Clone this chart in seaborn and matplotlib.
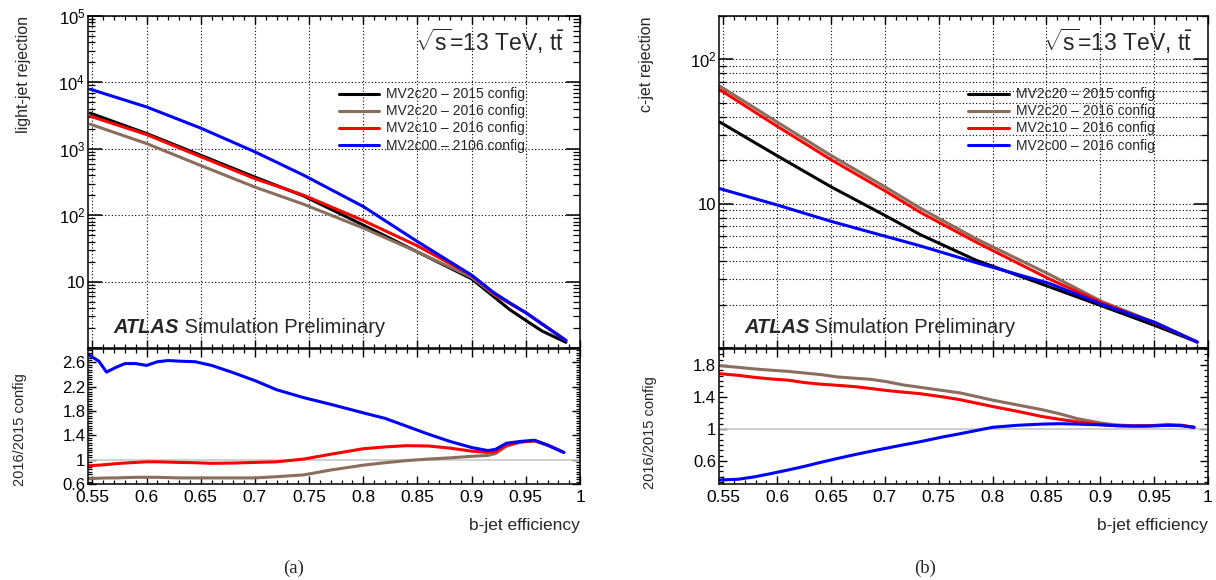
import numpy as np
import matplotlib
matplotlib.use("Agg")
import matplotlib.pyplot as plt
import matplotlib.ticker as mticker
import seaborn as sns

# ---- data ----
labels_a = ["MV2c20 \u2013 2015 config", "MV2c20 \u2013 2016 config",
            "MV2c10 \u2013 2016 config", "MV2c00 \u2013 2106 config"]
labels_b = ["MV2c20 \u2013 2015 config", "MV2c20 \u2013 2016 config",
            "MV2c10 \u2013 2016 config", "MV2c00 \u2013 2016 config"]
colors = ["#000000", "#8b6d5e", "#ff0000", "#0000ff"]

# (a) light-jet rejection
eff_a = [0.548, 0.6, 0.65, 0.7, 0.745, 0.8, 0.85, 0.9, 0.92, 0.935, 0.95, 0.965, 0.987]
light_mv2c20_15 = [3450, 1700, 800, 375, 195, 71, 28, 11.0, 6.0, 3.8, 2.6, 1.8, 1.22]
light_mv2c20_16 = [2350, 1200, 560, 265, 146, 64, 28, 11.6, 6.5, 4.7, 3.4, 2.3, 1.3]
light_mv2c10_16 = [3100, 1640, 760, 355, 200, 83, 34.5, 12.4, 6.7, 4.75, 3.4, 2.3, 1.3]
light_mv2c00_16 = [7900, 4270, 2050, 900, 400, 135, 40, 12.5, 6.9, 4.8, 3.4, 2.3, 1.3]

eff_ra = [0.547, 0.556, 0.563, 0.572, 0.58, 0.59, 0.60, 0.61, 0.62, 0.63, 0.645, 0.66,
          0.68, 0.70, 0.72, 0.745, 0.77, 0.80, 0.82, 0.84, 0.86, 0.88, 0.90, 0.915,
          0.922, 0.932, 0.945, 0.958, 0.97, 0.985]
ratio_a_mv2c20 = [0.69, 0.695, 0.70, 0.70, 0.705, 0.71, 0.71, 0.71, 0.705, 0.70, 0.70, 0.70,
                  0.70, 0.70, 0.72, 0.75, 0.83, 0.91, 0.95, 0.985, 1.01, 1.03, 1.055, 1.07,
                  1.10, 1.22, 1.29, 1.31, 1.24, 1.12]
ratio_a_mv2c10 = [0.90, 0.91, 0.92, 0.935, 0.945, 0.955, 0.965, 0.965, 0.96, 0.955, 0.95, 0.94,
                  0.945, 0.955, 0.965, 1.01, 1.09, 1.18, 1.21, 1.23, 1.225, 1.19, 1.14, 1.12,
                  1.13, 1.24, 1.29, 1.31, 1.24, 1.12]
ratio_a_mv2c00 = [2.72, 2.62, 2.44, 2.52, 2.58, 2.58, 2.55, 2.61, 2.63, 2.62, 2.61, 2.55,
                  2.43, 2.30, 2.15, 2.02, 1.91, 1.77, 1.68, 1.55, 1.42, 1.30, 1.20, 1.15,
                  1.17, 1.27, 1.30, 1.32, 1.24, 1.12]

# (b) c-jet rejection
eff_b = [0.547, 0.6, 0.65, 0.7, 0.733, 0.785, 0.853, 0.902, 0.951, 0.99]
c_mv2c20_15 = [36.7, 21.5, 13.1, 8.3, 6.1, 4.05, 2.65, 1.95, 1.43, 1.1]
c_mv2c20_16 = [65.2, 36.8, 21.6, 13.1, 9.3, 5.7, 3.23, 2.09, 1.5, 1.1]
c_mv2c10_16 = [61.5, 34.4, 20.2, 12.3, 8.7, 5.4, 3.0, 2.05, 1.49, 1.1]
c_mv2c00_16 = [12.7, 9.8, 7.55, 5.96, 5.1, 3.9, 2.8, 2.0, 1.5, 1.1]

eff_rb = [0.547, 0.564, 0.579, 0.594, 0.61, 0.625, 0.64, 0.656, 0.671, 0.687, 0.702, 0.717,
          0.733, 0.754, 0.77, 0.80, 0.823, 0.846, 0.862, 0.878, 0.89, 0.902, 0.915, 0.93,
          0.945, 0.963, 0.975, 0.987]
ratio_b_mv2c20 = [1.79, 1.77, 1.75, 1.735, 1.72, 1.70, 1.68, 1.65, 1.635, 1.62, 1.59, 1.55,
                  1.52, 1.48, 1.45, 1.36, 1.30, 1.24, 1.19, 1.13, 1.10, 1.07, 1.05, 1.04,
                  1.04, 1.05, 1.045, 1.02]
ratio_b_mv2c10 = [1.69, 1.67, 1.645, 1.625, 1.61, 1.58, 1.56, 1.545, 1.53, 1.505, 1.48, 1.46,
                  1.44, 1.40, 1.365, 1.28, 1.22, 1.155, 1.12, 1.09, 1.07, 1.05, 1.04, 1.035,
                  1.04, 1.05, 1.045, 1.02]
ratio_b_mv2c00 = [0.36, 0.37, 0.40, 0.44, 0.485, 0.53, 0.58, 0.63, 0.675, 0.72, 0.76, 0.80,
                  0.84, 0.90, 0.94, 1.02, 1.045, 1.06, 1.065, 1.06, 1.055, 1.05, 1.04, 1.035,
                  1.035, 1.045, 1.04, 1.02]

# ---- style ----
sns.set_style("ticks")
plt.rcParams["font.family"] = ["Liberation Sans", "DejaVu Sans"]
plt.rcParams["mathtext.fontset"] = "custom"
plt.rcParams["mathtext.rm"] = "Liberation Sans"
plt.rcParams["mathtext.it"] = "Liberation Sans:italic"
plt.rcParams["mathtext.bf"] = "Liberation Sans:bold"
plt.rcParams["axes.edgecolor"] = "black"
plt.rcParams["axes.linewidth"] = 1.1
plt.rcParams["xtick.color"] = "black"
plt.rcParams["ytick.color"] = "black"


def log_fmt(v, pos):
    n = int(round(np.log10(v)))
    if n == 0:
        return ""
    if n == 1:
        return "10"
    return r"$10^{%d}$" % n


fig = plt.figure(figsize=(12.16, 5.8), dpi=100)

panels = [
    dict(x0=0.0724, w=0.4046, eff=eff_a,
         top=[light_mv2c20_15, light_mv2c20_16, light_mv2c10_16, light_mv2c00_16],
         ylim=(1, 1e5), ylab="light-jet rejection", ylab_x=-0.116, labels=labels_a,
         eff_r=eff_ra, ratios=[ratio_a_mv2c20, ratio_a_mv2c10, ratio_a_mv2c00],
         rlim=(0.6, 2.82), rticks=[0.6, 1, 1.4, 1.8, 2.2, 2.6], rminor=0.04,
         rlab_x=-0.124, rlab_y=0.82, ygrid="major", tag="(a)", tag_x=294 / 1216),
    dict(x0=0.5913, w=0.4021, eff=eff_b,
         top=[c_mv2c20_15, c_mv2c20_16, c_mv2c10_16, c_mv2c00_16],
         ylim=(1, 200), ylab="c-jet rejection", ylab_x=-0.132, labels=labels_b,
         eff_r=eff_rb, ratios=[ratio_b_mv2c20, ratio_b_mv2c10, ratio_b_mv2c00],
         rlim=(0.31, 2.0), rticks=[0.6, 1, 1.4, 1.8], rminor=0.4 / 6,
         rlab_x=-0.126, rlab_y=0.8, ygrid="both", tag="(b)", tag_x=925 / 1216),
]

for p in panels:
    ax = fig.add_axes([p["x0"], 0.40, p["w"], 0.5724])
    axr = fig.add_axes([p["x0"], 0.1655, p["w"], 0.2328])

    for vals, c, lab in zip(p["top"], colors, p["labels"]):
        sns.lineplot(x=p["eff"], y=vals, ax=ax, color=c, linewidth=2.2, label=lab,
                     sort=False, estimator=None)
    ax.set_yscale("log")
    ax.set_xlim(0.546, 1.0)
    ax.set_ylim(*p["ylim"])
    ax.yaxis.set_major_locator(mticker.LogLocator(base=10))
    ax.yaxis.set_minor_locator(mticker.LogLocator(base=10, subs=np.arange(2, 10)))
    ax.yaxis.set_major_formatter(mticker.FuncFormatter(log_fmt))
    ax.yaxis.set_minor_formatter(mticker.NullFormatter())
    ax.xaxis.set_major_locator(mticker.MultipleLocator(0.05))
    ax.xaxis.set_minor_locator(mticker.MultipleLocator(0.01))
    ax.tick_params(axis="x", labelbottom=False)
    ax.grid(axis="x", which="major", linestyle=(0, (1, 2)), color="black", lw=0.8)
    ax.grid(axis="y", which=p["ygrid"], linestyle=(0, (1, 2)), color="black", lw=0.8)
    ax.tick_params(which="both", direction="in", top=True, right=True, labelsize=12)
    ax.tick_params(axis="y", which="major", length=10, width=1.1, pad=2)
    ax.tick_params(axis="y", which="minor", length=5, width=0.9)
    ax.tick_params(axis="x", which="major", length=6, width=1.0)
    ax.tick_params(axis="x", which="minor", length=3, width=0.9)
    ax.set_xlabel("")
    ax.set_ylabel(p["ylab"], fontsize=11.5, loc="top")
    ax.yaxis.set_label_coords(p["ylab_x"], 1.0)

    leg = ax.legend(loc="upper left", bbox_to_anchor=(0.51, 0.785), frameon=False,
                    fontsize=10, handlelength=2.9, handletextpad=0.5, labelspacing=0.22,
                    borderpad=0, borderaxespad=0)
    for h in leg.get_lines():
        h.set_linewidth(2.2)

    ax.text(0.967, 0.925, r"$\sqrt{\mathrm{s}}$=13 TeV, $\mathrm{t\bar{t}}$",
            transform=ax.transAxes, ha="right", va="center", fontsize=16.5)
    t1 = ax.text(0.051, 0.063, "ATLAS", transform=ax.transAxes, fontsize=14.5,
                 fontweight="bold", fontstyle="italic", va="center", ha="left")
    ax.annotate(" Simulation Preliminary", xy=(1, 0), xycoords=t1, va="bottom",
                ha="left", fontsize=14.5)

    # ratio panel
    axr.axhline(1, color="#c8c8c8", lw=1.2, zorder=1)
    for vals, c in zip(p["ratios"], colors[1:]):
        sns.lineplot(x=p["eff_r"], y=vals, ax=axr, color=c, linewidth=2.2,
                     sort=False, estimator=None, legend=False)
    axr.set_xlim(0.546, 1.0)
    axr.set_ylim(*p["rlim"])
    axr.xaxis.set_major_locator(mticker.MultipleLocator(0.05))
    axr.xaxis.set_minor_locator(mticker.MultipleLocator(0.01))
    axr.xaxis.set_major_formatter(mticker.FormatStrFormatter("%g"))
    axr.yaxis.set_major_locator(mticker.FixedLocator(p["rticks"]))
    axr.yaxis.set_minor_locator(mticker.MultipleLocator(p["rminor"]))
    axr.yaxis.set_major_formatter(mticker.FormatStrFormatter("%g"))
    axr.tick_params(which="both", direction="in", top=True, right=True)
    axr.tick_params(axis="x", which="major", length=6, width=1.0, labelsize=12.5, pad=4.5)
    axr.tick_params(axis="x", which="minor", length=3, width=0.9)
    axr.tick_params(axis="y", which="major", length=6, width=1.0, labelsize=12, pad=2)
    axr.tick_params(axis="y", which="minor", length=3, width=0.9)
    axr.set_ylabel("2016/2015 config", fontsize=10.5, loc="top")
    axr.yaxis.set_label_coords(p["rlab_x"], p["rlab_y"])
    axr.set_xlabel("b-jet efficiency", fontsize=12.5, loc="right")
    axr.xaxis.set_label_coords(1.0, -0.255)

    fig.text(p["tag_x"], 1 - 568 / 580, p["tag"], ha="center", va="center",
             fontsize=13.5, family=["Liberation Serif", "DejaVu Serif"])

fig.savefig("out.png", dpi=100)
